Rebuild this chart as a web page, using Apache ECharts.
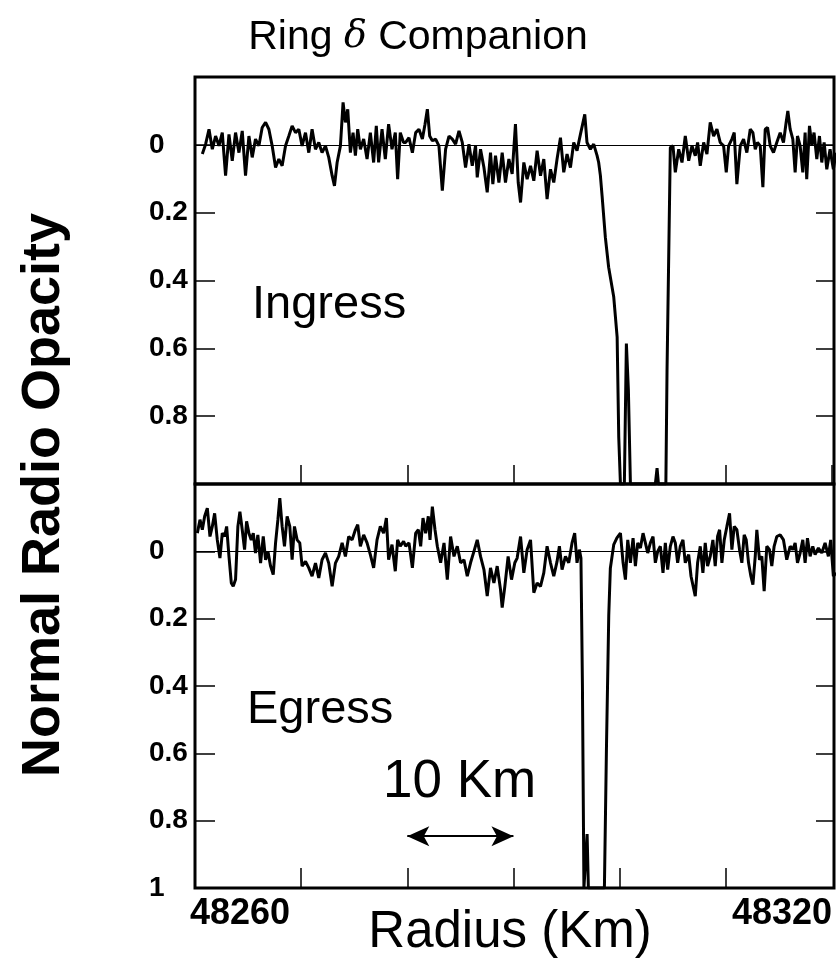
<!DOCTYPE html>
<html><head><meta charset="utf-8">
<script src="https://cdn.jsdelivr.net/npm/echarts@6/dist/echarts.min.js"></script>
<style>html,body{margin:0;padding:0;background:#fff}#c{width:836px;height:967px}</style>
</head><body><div id="c"></div>
<script>
// ---- data: [radius km, normal radio opacity] ----
const ingressBefore = [[48260.69,0.027],[48261.00,-0.002],[48261.32,-0.046],[48261.63,0.013],[48261.94,-0.026],[48262.26,0.003],[48262.57,-0.036],[48262.88,0.091],[48263.20,-0.031],[48263.51,0.047],[48263.82,-0.036],[48264.14,0.023],[48264.45,-0.041],[48264.76,0.091],[48265.08,-0.026],[48265.39,0.037],[48265.70,-0.017],[48266.02,0.003],[48266.33,-0.051],[48266.65,-0.066],[48266.96,-0.046],[48267.27,0.003],[48267.59,0.067],[48267.90,0.042],[48268.21,0.062],[48268.53,0.003],[48268.84,-0.026],[48269.15,-0.056],[48269.47,-0.036],[48269.78,-0.046],[48270.09,0.003],[48270.41,-0.036],[48270.72,0.023],[48271.03,-0.046],[48271.35,0.013],[48271.66,-0.007],[48271.97,0.023],[48272.29,0.003],[48272.60,0.037],[48272.92,0.091],[48273.14,0.121],[48273.39,0.052],[48273.70,0.003],[48273.95,-0.125],[48274.17,-0.066],[48274.39,-0.105],[48274.64,0.023],[48274.89,-0.036],[48275.11,0.032],[48275.33,-0.046],[48275.58,0.013],[48275.89,-0.017],[48276.21,0.042],[48276.52,-0.036],[48276.83,0.052],[48277.08,-0.056],[48277.30,0.052],[48277.62,-0.046],[48277.93,0.042],[48278.24,-0.061],[48278.56,0.013],[48278.87,-0.036],[48279.09,0.101],[48279.34,-0.036],[48279.65,-0.007],
[48279.85,-0.007],[48280.16,-0.021],[48280.48,0.023],[48280.79,-0.036],[48281.10,-0.046],[48281.42,-0.017],[48281.67,-0.061],[48281.89,-0.105],[48282.11,-0.026],[48282.36,-0.012],[48282.67,-0.017],[48282.98,0.003],[48283.30,0.135],[48283.61,0.013],[48283.93,-0.026],[48284.24,-0.017],[48284.55,-0.002],[48284.87,-0.041],[48285.18,-0.007],[48285.49,0.067],[48285.81,-0.002],[48286.12,0.062],[48286.43,0.003],[48286.59,0.096],[48286.90,0.013],[48287.22,0.067],[48287.53,0.140],[48287.84,0.023],[48288.06,0.116],[48288.31,0.032],[48288.63,0.111],[48288.94,0.023],[48289.25,0.111],[48289.57,0.042],[48289.88,0.086],[48290.19,-0.061],[48290.45,0.111],[48290.67,0.170],[48290.98,0.052],[48291.29,0.101],[48291.61,0.062],[48291.92,0.106],[48292.23,0.017],[48292.55,0.091],[48292.86,0.042],[48293.17,0.160],[48293.49,0.072],[48293.80,0.111],[48294.11,0.042],[48294.43,-0.021],[48294.74,0.081],[48295.05,0.027],[48295.37,0.067],[48295.68,-0.007],[48295.99,0.017],[48296.31,-0.031],[48296.72,-0.090],[48296.93,-0.007],[48297.25,0.013],[48297.56,-0.002],[48297.88,0.032],[48298.03,0.052]];
const ingressGap = [[48298.19,0.09],[48298.35,0.15],[48298.66,0.273],[48298.97,0.361],[48299.45,0.449],[48299.77,0.567],[48299.92,0.861],[48300.08,1.0],[48300.45,1.0],[48300.64,0.586],[48300.83,0.724],[48301.02,1.0],[48303.37,1.0],[48303.53,0.953],[48303.66,1.0],[48304.36,1.0],[48304.47,0.665],[48304.78,0.008]];
const ingressAfter = [[48305.03,0.003],[48305.25,0.081],[48305.57,0.013],[48305.88,0.052],[48306.19,-0.026],[48306.51,0.047],[48306.82,0.003],[48307.13,0.032],[48307.35,-0.007],[48307.60,0.062],[48307.92,-0.007],[48308.23,0.027],[48308.54,-0.066],[48308.86,-0.026],[48309.17,-0.046],[48309.48,-0.007],[48309.80,0.003],[48310.05,0.081],[48310.27,0.003],[48310.58,-0.017],[48310.80,-0.036],[48311.05,0.116],[48311.37,0.003],[48311.68,-0.017],[48311.99,0.023],[48312.31,-0.046],[48312.56,-0.036],[48312.78,0.013],[48312.99,-0.007],[48313.25,0.003],[48313.50,0.125],[48313.72,-0.046],[48313.94,-0.051],[48314.19,0.003],[48314.50,0.023],[48314.81,-0.007],[48315.13,-0.036],[48315.44,-0.007],[48315.69,-0.066],[48315.85,-0.100],[48316.07,-0.046],[48316.32,-0.017],[48316.54,0.081],[48316.76,-0.026],[48317.01,0.003],[48317.26,0.081],[48317.48,-0.036],[48317.63,0.101],[48317.89,-0.056],[48318.11,0.003],[48318.32,-0.036],[48318.58,0.042],[48318.83,-0.026],[48319.05,0.052],[48319.27,-0.007],[48319.52,0.072],[48319.83,0.013],[48320.14,0.072],[48320.39,0.023]];

const egressBefore = [[48260.22,-0.054],[48260.47,-0.094],[48260.69,-0.064],[48260.91,-0.104],[48261.16,-0.128],[48261.41,-0.044],[48261.63,-0.074],[48261.85,-0.113],[48262.10,-0.034],[48262.35,0.020],[48262.57,-0.054],[48262.79,-0.044],[48262.98,-0.074],[48263.20,0.015],[48263.42,0.094],[48263.60,0.104],[48263.82,0.084],[48264.04,-0.074],[48264.23,-0.118],[48264.45,-0.064],[48264.67,-0.005],[48264.86,-0.089],[48265.08,-0.054],[48265.30,-0.034],[48265.49,-0.054],[48265.70,0.005],[48265.92,-0.049],[48266.18,0.035],[48266.43,-0.044],[48266.65,0.025],[48266.87,0.000],[48267.12,0.044],[48267.37,0.069],[48267.59,-0.025],[48267.81,-0.094],[48267.99,-0.158],[48268.21,-0.074],[48268.43,-0.015],[48268.68,-0.104],[48268.93,-0.074],[48269.15,0.025],[48269.37,-0.074],[48269.62,-0.034],[48269.87,-0.025],[48270.09,0.044],[48270.41,0.030],[48270.72,0.049],[48271.03,0.074],[48271.35,0.035],[48271.66,0.079],[48271.97,0.025],[48272.29,0.005],[48272.60,0.035],[48272.92,0.104],[48273.23,0.035],[48273.54,0.015],[48273.86,-0.025],[48274.17,0.015],[48274.48,-0.044],[48274.80,-0.034],[48275.11,-0.064],[48275.33,-0.079],[48275.58,-0.015],[48275.89,-0.049],[48276.21,-0.025],[48276.52,0.010],[48276.83,0.049],[48277.15,-0.034],[48277.46,-0.074],[48277.77,-0.054],[48278.03,-0.099],[48278.24,0.025],[48278.56,-0.020],[48278.87,0.059],[48279.09,-0.034],[48279.34,-0.015],[48279.65,-0.030],
[48279.85,-0.015],[48280.16,-0.025],[48280.48,0.049],[48280.79,-0.054],[48281.04,-0.064],[48281.26,-0.015],[48281.48,-0.099],[48281.73,-0.054],[48281.98,-0.104],[48282.14,-0.034],[48282.36,-0.133],[48282.61,-0.064],[48282.83,-0.015],[48283.14,0.034],[48283.46,-0.025],[48283.77,0.084],[48284.08,-0.044],[48284.40,0.015],[48284.71,-0.015],[48285.02,0.034],[48285.34,0.025],[48285.65,0.074],[48285.96,0.034],[48286.28,0.000],[48286.59,-0.034],[48286.90,0.015],[48287.22,0.054],[48287.53,0.133],[48287.84,0.049],[48288.16,0.094],[48288.47,0.044],[48288.78,0.113],[48288.94,0.167],[48289.19,0.104],[48289.50,0.015],[48289.82,0.084],[48290.13,0.034],[48290.35,0.020],[48290.67,-0.044],[48290.98,0.064],[48291.29,-0.005],[48291.61,-0.034],[48291.92,0.123],[48292.23,0.094],[48292.55,0.104],[48292.86,0.064],[48293.17,-0.015],[48293.49,0.034],[48293.80,0.074],[48294.11,0.030],[48294.33,-0.015],[48294.58,0.054],[48294.90,0.015],[48295.21,0.034],[48295.52,-0.025],[48295.77,-0.054],[48295.99,0.034],[48296.21,-0.005],[48296.36,0.02]];
const egressGap = [[48296.50,0.40],[48296.64,1.0],[48296.80,1.0],[48296.94,0.84],[48297.06,1.0],[48298.57,1.0],[48298.76,0.59],[48298.98,0.19],[48299.13,0.05],[48299.45,-0.02],[48299.75,-0.04]];
const egressAfter = [[48300.08,-0.054],[48300.33,0.034],[48300.55,0.084],[48300.77,-0.034],[48301.02,0.034],[48301.27,-0.039],[48301.49,0.044],[48301.71,-0.025],[48301.96,-0.010],[48302.21,-0.054],[48302.43,-0.025],[48302.65,0.005],[48302.90,-0.025],[48303.15,-0.044],[48303.37,0.034],[48303.59,0.000],[48303.84,-0.015],[48304.09,0.064],[48304.31,-0.025],[48304.53,0.054],[48304.78,-0.015],[48305.03,-0.044],[48305.25,-0.025],[48305.47,0.034],[48305.72,-0.015],[48305.97,-0.034],[48306.19,0.034],[48306.51,0.010],[48306.73,0.074],[48306.91,0.079],[48307.13,0.133],[48307.35,0.034],[48307.60,-0.015],[48307.85,0.064],[48308.07,-0.025],[48308.29,0.044],[48308.54,0.015],[48308.79,-0.034],[48309.01,0.044],[48309.23,-0.044],[48309.42,-0.064],[48309.64,0.034],[48309.86,-0.034],[48310.11,-0.074],[48310.36,-0.113],[48310.58,-0.005],[48310.80,-0.074],[48311.05,-0.064],[48311.30,-0.005],[48311.52,0.034],[48311.74,-0.049],[48311.93,-0.034],[48312.15,0.034],[48312.37,0.074],[48312.56,0.099],[48312.78,0.015],[48312.93,-0.064],[48313.18,0.025],[48313.40,0.015],[48313.62,0.118],[48313.87,-0.015],[48314.12,-0.005],[48314.34,0.044],[48314.56,-0.015],[48314.81,-0.044],[48315.13,-0.049],[48315.44,-0.034],[48315.75,0.025],[48316.07,-0.015],[48316.32,-0.005],[48316.54,-0.025],[48316.76,0.034],[48317.01,0.005],[48317.26,-0.034],[48317.48,0.034],[48317.70,-0.039],[48317.95,0.015],[48318.20,-0.015],[48318.42,0.010],[48318.73,-0.010],[48319.05,0.005],[48319.36,-0.025],[48319.67,0.015],[48319.89,-0.034],[48320.14,0.074],[48320.39,0.064]];

// ---- axes / labels ----
const xRange = [48260, 48320.2];
const xTickStep = 10;
const xTickLabels = ['48260', '48320'];
const yRange = [-0.2, 1];
const yTickStep = 0.2;
const yTickLabelsTop = ['0', '0.2', '0.4', '0.6', '0.8'];
const yTickLabelsBottom = ['0', '0.2', '0.4', '0.6', '0.8', '1'];
const scaleBarKm = [48280, 48290];
const scaleBarOpacity = 0.846;

const FONT = '"Liberation Sans", Arial, Helvetica, sans-serif';
const chart = echarts.init(document.getElementById('c'), null, {renderer: 'canvas'});

function fmtY(list) {
  return function (v) { const s = String(Math.round(v * 10) / 10); return list.indexOf(s) >= 0 ? s : ''; };
}
const tick = (len) => ({show: true, inside: true, length: len, lineStyle: {color: '#000', width: 1.5}});
const noLine = {show: false, onZero: false};

const frame = {show: true, borderColor: '#000', borderWidth: 3, backgroundColor: 'transparent', outerBoundsMode: 'none', containLabel: false};
const lineStyle = {color: '#000', width: 3};
const baseLine = {yAxis: 0, lineStyle: {color: '#000', width: 1, type: 'solid'}};

chart.setOption({
  animation: false,
  backgroundColor: '#fff',
  title: {
    text: 'Ring {d|δ} Companion', left: 'center', top: 12,
    textStyle: {fontFamily: FONT, fontSize: 41, fontWeight: 'normal', color: '#000',
      rich: {d: {fontFamily: '"DejaVu Serif", "Liberation Serif", serif', fontStyle: 'italic', fontSize: 38, color: '#000'}}}
  },
  grid: [
    Object.assign({left: 195, top: 77, width: 639, height: 407}, frame),
    Object.assign({left: 195, top: 484, width: 639, height: 404}, frame)
  ],
  xAxis: [
    {type: 'value', gridIndex: 0, min: xRange[0], max: xRange[1], interval: xTickStep, position: 'bottom',
      axisLine: noLine, axisTick: tick(19), axisLabel: {show: false}, splitLine: {show: false}},
    {type: 'value', gridIndex: 1, min: xRange[0], max: xRange[1], interval: xTickStep, position: 'bottom',
      axisLine: noLine, axisTick: tick(20), splitLine: {show: false},
      axisLabel: {show: true, margin: 8, color: '#000', fontFamily: FONT, fontWeight: 'bold', fontSize: 36,
        showMinLabel: true, showMaxLabel: true,
        formatter: function (v) {
          const s = String(Math.round(v));
          if (s === xTickLabels[0]) return '{l|' + s + '}';
          if (s === xTickLabels[1]) return '{r|' + s + '}';
          return '';
        },
        rich: {l: {padding: [0, 0, 0, 90], fontFamily: FONT, fontWeight: 'bold', fontSize: 36, color: '#000'},
               r: {padding: [0, 104, 0, 0], fontFamily: FONT, fontWeight: 'bold', fontSize: 36, color: '#000'}}}}
  ],
  yAxis: [
    {type: 'value', gridIndex: 0, min: yRange[0], max: yRange[1], interval: yTickStep, inverse: true, position: 'left',
      axisLine: noLine, axisTick: tick(20), splitLine: {show: false},
      axisLabel: {align: 'left', margin: 46, color: '#000', fontFamily: FONT, fontWeight: 'bold', fontSize: 28, formatter: fmtY(yTickLabelsTop)}},
    {type: 'value', gridIndex: 0, min: yRange[0], max: yRange[1], interval: yTickStep, inverse: true, position: 'right',
      axisLine: noLine, axisTick: tick(18), axisLabel: {show: false}, splitLine: {show: false}},
    {type: 'value', gridIndex: 1, min: yRange[0], max: yRange[1], interval: yTickStep, inverse: true, position: 'left',
      axisLine: noLine, axisTick: tick(20), splitLine: {show: false},
      axisLabel: {align: 'left', margin: 46, color: '#000', fontFamily: FONT, fontWeight: 'bold', fontSize: 28, formatter: fmtY(yTickLabelsBottom)}},
    {type: 'value', gridIndex: 1, min: yRange[0], max: yRange[1], interval: yTickStep, inverse: true, position: 'right',
      axisLine: noLine, axisTick: tick(18), axisLabel: {show: false}, splitLine: {show: false}}
  ],
  series: [
    {name: 'Ingress', type: 'line', xAxisIndex: 0, yAxisIndex: 0, symbol: 'none', showSymbol: false, clip: true,
      lineStyle: lineStyle, data: ingressBefore.concat(ingressGap, ingressAfter),
      markLine: {silent: true, symbol: 'none', label: {show: false}, animation: false, data: [baseLine]}},
    {name: 'Egress', type: 'line', xAxisIndex: 1, yAxisIndex: 2, symbol: 'none', showSymbol: false, clip: true,
      lineStyle: lineStyle, data: egressBefore.concat(egressGap, egressAfter),
      markLine: {silent: true, symbol: 'none', label: {show: false}, animation: false, data: [
        baseLine,
        [{coord: [scaleBarKm[0], scaleBarOpacity], symbol: 'arrow', symbolSize: [15, 22], lineStyle: {color: '#000', width: 2, type: 'solid'}},
         {coord: [scaleBarKm[1], scaleBarOpacity], symbol: 'arrow', symbolSize: [15, 22]}]
      ]}}
  ],
  graphic: [
    {type: 'text', x: 44, y: 495, rotation: Math.PI / 2,
      style: {text: 'Normal Radio Opacity', font: 'bold 54px ' + FONT, fill: '#000', align: 'center', verticalAlign: 'middle'}},
    {type: 'text', x: 252, y: 305,
      style: {text: 'Ingress', font: 'normal 47px ' + FONT, fill: '#000', align: 'left', verticalAlign: 'middle'}},
    {type: 'text', x: 247, y: 710,
      style: {text: 'Egress', font: 'normal 47px ' + FONT, fill: '#000', align: 'left', verticalAlign: 'middle'}},
    {type: 'text', x: 383, y: 782,
      style: {text: '10 Km', font: 'normal 53px ' + FONT, fill: '#000', align: 'left', verticalAlign: 'middle'}},
    {type: 'text', x: 510, y: 933,
      style: {text: 'Radius (Km)', font: 'normal 51px ' + FONT, fill: '#000', align: 'center', verticalAlign: 'middle'}}
  ]
});
</script></body></html>
